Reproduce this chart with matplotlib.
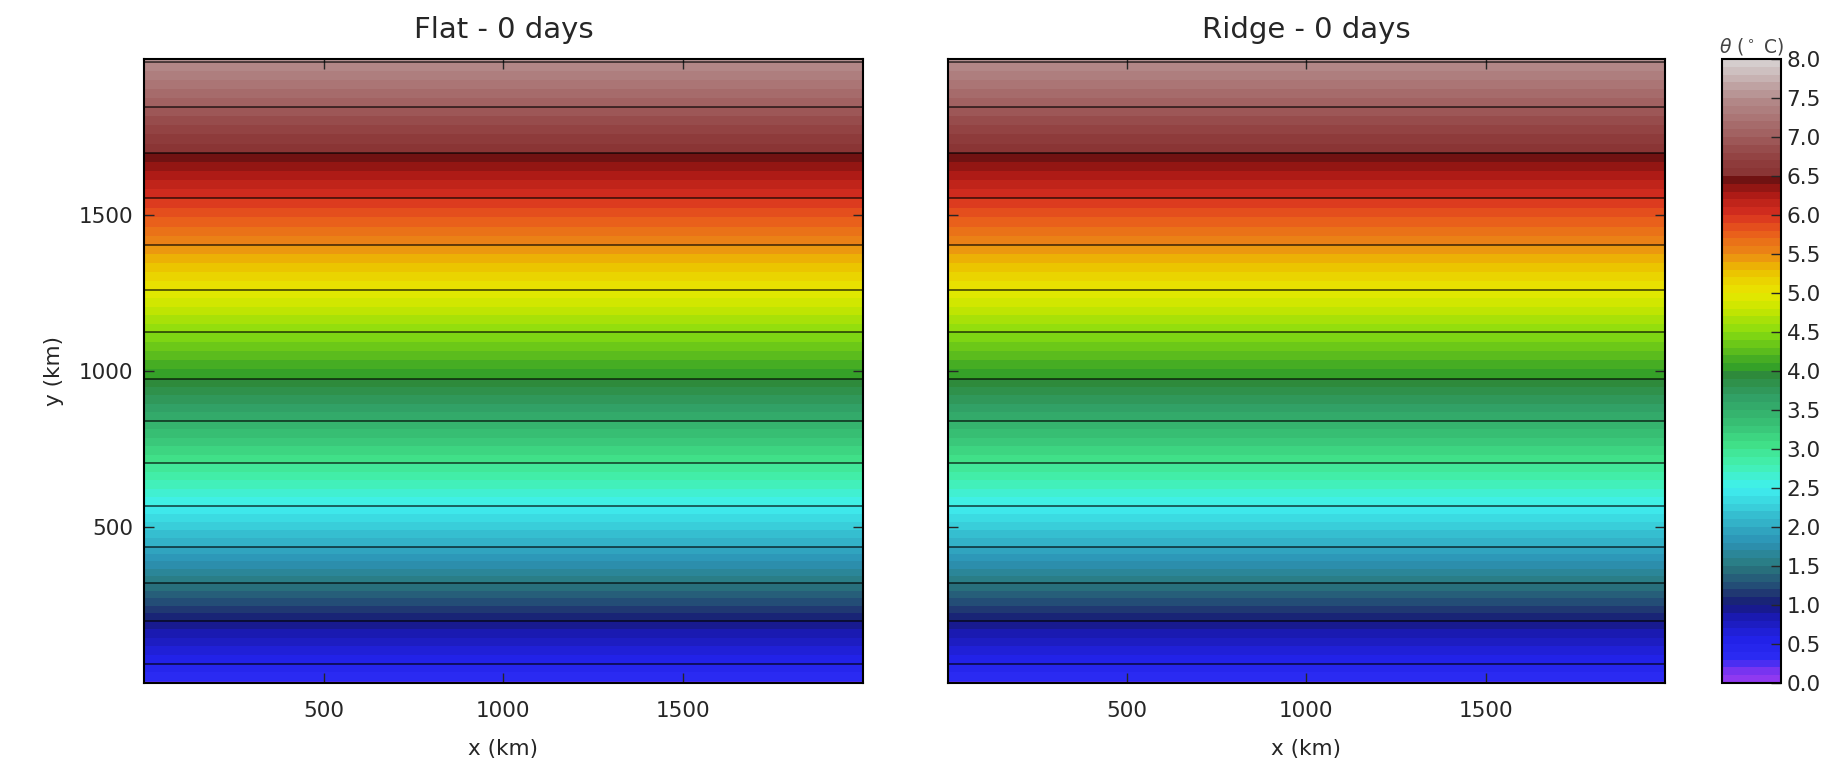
import numpy as np
import matplotlib
matplotlib.use("Agg")
import matplotlib.pyplot as plt
from matplotlib.colors import LinearSegmentedColormap

# ---------------------------------------------------------------------------
# Data: theta profile (uniform in x), same for both runs
# ---------------------------------------------------------------------------
x_km = [0, 2000]
y_km = [0, 62, 200, 320, 437, 568, 704, 841, 975, 1124, 1261, 1403, 1553, 1700, 1845, 2000]
theta = [0.28, 0.5, 1.0, 1.5, 2.0, 2.5, 3.0, 3.5, 4.0, 4.5, 5.0, 5.5, 6.0, 6.5, 7.0, 7.53]
panel_titles = ["Flat - 0 days", "Ridge - 0 days"]
cbar_ticks = [0.0, 0.5, 1.0, 1.5, 2.0, 2.5, 3.0, 3.5, 4.0, 4.5, 5.0, 5.5, 6.0, 6.5, 7.0, 7.5, 8.0]
xticks = [500, 1000, 1500]
yticks = [500, 1000, 1500]

# colormap nodes (value in degC, colour)
cmap_nodes = [
    (0.00, "#9a3cf0"), (0.20, "#6a30f0"), (0.30, "#2c2cf4"), (0.55, "#2222e8"),
    (0.85, "#1a1ab0"), (1.00, "#161a78"), (1.15, "#203a72"), (1.50, "#2a7a7e"),
    (1.80, "#2c92b4"), (2.10, "#34b8cc"), (2.50, "#40f0f0"), (2.80, "#42f0b0"),
    (3.05, "#40e088"), (3.40, "#36b870"), (3.70, "#309c64"), (3.95, "#2e8a3a"),
    (4.05, "#34a028"), (4.50, "#88dc10"), (4.80, "#c8e600"), (5.00, "#e8e800"),
    (5.30, "#ecc000"), (5.50, "#ec8a14"), (5.80, "#e85a1c"), (6.00, "#d83020"),
    (6.30, "#a81814"), (6.45, "#701212"), (6.55, "#8a3434"), (6.80, "#944646"),
    (7.00, "#a05c5c"), (7.50, "#b48c8c"), (8.00, "#d8d4d4"),
]

cmap = LinearSegmentedColormap.from_list(
    "theta", [(v / 8.0, c) for v, c in cmap_nodes], N=512)

fill_levels = np.linspace(0, 8, 81)
line_levels = np.arange(0.5, 8.0, 0.5)

plt.rcParams["font.family"] = ["DejaVu Sans"]
plt.rcParams["text.color"] = "#262626"
plt.rcParams["xtick.color"] = "#262626"
plt.rcParams["ytick.color"] = "#262626"
plt.rcParams["axes.labelcolor"] = "#262626"

Z = np.tile(np.array(theta)[:, None], (1, len(x_km)))

fig = plt.figure(figsize=(18.36, 7.66), dpi=100)
ax1 = fig.add_axes([0.0784, 0.1084, 0.3916, 0.8146])
ax2 = fig.add_axes([0.5163, 0.1084, 0.3905, 0.8146], sharey=ax1)
cax = fig.add_axes([0.9379, 0.1084, 0.0321, 0.8146])

for ax, title in zip([ax1, ax2], panel_titles):
    cf = ax.contourf(x_km, y_km, Z, levels=fill_levels, cmap=cmap, vmin=0, vmax=8)
    ax.contour(x_km, y_km, Z, levels=line_levels, colors="k", linewidths=1.1, alpha=0.75)
    ax.set_xlim(0, 2000)
    ax.set_ylim(0, 2000)
    ax.set_xticks(xticks)
    ax.set_yticks(yticks)
    ax.tick_params(direction="in", top=True, right=True, length=7, width=1,
                   labelsize=15.5, colors="#262626")
    ax.tick_params(axis="x", pad=13)
    ax.tick_params(axis="y", pad=8)
    ax.set_title(title, fontsize=21, pad=15)
    ax.set_xlabel("x (km)", fontsize=15.5, labelpad=13)
    for s in ax.spines.values():
        s.set_linewidth(1.5)

ax1.set_ylabel("y (km)", fontsize=15.5, labelpad=10)
plt.setp(ax2.get_yticklabels(), visible=False)

cb = fig.colorbar(cf, cax=cax, ticks=cbar_ticks)
cb.ax.tick_params(direction="in", length=7, width=1, labelsize=15.5, pad=4)
cb.ax.set_yticklabels([f"{t:.1f}" for t in cbar_ticks])
cb.outline.set_linewidth(1.5)
cb.ax.set_title(r"$\theta$ ($^\circ$ C)", fontsize=13.5, color="#444444", pad=5)

fig.savefig("out.png", dpi=100, facecolor="white")
